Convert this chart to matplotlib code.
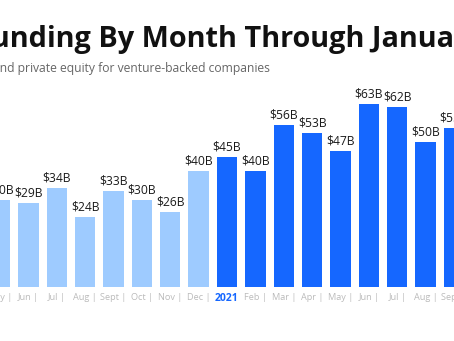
"""
Monthly venture funding bar chart, 2020 (light) vs 2021 (dark)
"""

import matplotlib.pyplot as plt

months = ['May', 'Jun', 'Jul', 'Aug', 'Sept', 'Oct', 'Nov', 'Dec',
          '2021', 'Feb', 'Mar', 'Apr', 'May', 'Jun', 'Jul', 'Aug', 'Sept']
funding = [30, 29, 34, 24, 33, 30, 26, 40,
           45, 40, 56, 53, 47, 63, 62, 50, 55]
year = [2020] * 8 + [2021] * 9

LIGHT = '#9ecbff'
DARK = '#1567ff'

plt.rcParams['font.family'] = ['Open Sans', 'DejaVu Sans']

fig = plt.figure(figsize=(4.54, 3.41), dpi=100)
ax = fig.add_axes([0, 54 / 341, 1, 287 / 341])

x = list(range(len(months)))
colors = [LIGHT if y == 2020 else DARK for y in year]
bars = ax.bar(x, funding, width=0.72, color=colors)

for xi, v in zip(x, funding):
    ax.text(xi, v + 1.2, '${}B'.format(v), ha='center', va='bottom',
            fontsize=8.7, color='#1a1a1a')

ax.set_xlim(0.175, 15.78)
ax.set_ylim(0, 99)
ax.set_xticks(x)
labels = [m if m == '2021' else m + ' |' for m in months]
ax.set_xticklabels(labels, fontsize=6.6, color='#bbbbbb')
for lbl in ax.get_xticklabels():
    if lbl.get_text() == '2021':
        lbl.set_color(DARK)
        lbl.set_fontweight('bold')
        lbl.set_fontsize(7.5)
ax.tick_params(axis='x', length=0, pad=4)
ax.set_yticks([])
for s in ax.spines.values():
    s.set_visible(False)

fig.text(-0.056, 1 - 47 / 341, 'Funding By Month Through January 2022',
         fontsize=20.8, fontweight='bold', color='#111111', va='baseline')
fig.text(-0.015, 1 - 72 / 341, 'and private equity for venture-backed companies',
         fontsize=8.7, color='#666666', va='baseline')

fig.savefig('out.png', dpi=100)
